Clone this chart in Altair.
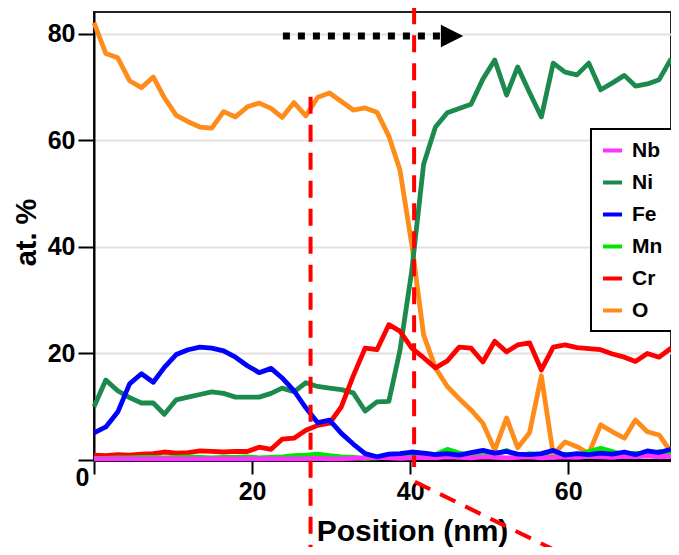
import altair as alt
import pandas as pd

positions = [0.0, 1.5, 3.0, 4.5, 6.0, 7.5, 8.9, 10.4, 11.9, 13.4, 14.9, 16.4, 17.9, 19.4, 20.9,
             22.4, 23.8, 25.3, 26.8, 28.3, 29.8, 31.3, 32.8, 34.3, 35.8, 37.3, 38.7, 40.2, 41.7,
             43.2, 44.7, 46.2, 47.7, 49.2, 50.7, 52.2, 53.6, 55.1, 56.6, 58.1, 59.6, 61.1, 62.6,
             64.1, 65.6, 67.1, 68.5, 70.0, 71.5, 73.0]

o_vals = [82.1, 76.3, 75.5, 71.2, 69.9, 71.9, 68.0, 64.7, 63.5, 62.5, 62.3, 65.4, 64.4, 66.3, 67.0,
          66.0, 64.3, 67.1, 64.6, 68.1, 68.9, 67.3, 65.7, 66.1, 65.3, 60.8, 54.5, 40.5, 23.5,
          17.3, 13.8, 11.5, 9.4, 6.9, 1.9, 7.9, 2.3, 5.1, 15.8, 1.0, 3.4, 2.5, 1.2,
          6.6, 5.3, 4.1, 7.5, 5.3, 4.7, 1.5]

ni_vals = [10.0, 15.0, 13.0, 11.7, 10.7, 10.7, 8.6, 11.3, 11.8, 12.3, 12.8, 12.5, 11.8, 11.8, 11.8,
           12.5, 13.5, 12.8, 14.5, 13.8, 13.5, 13.2, 12.6, 9.2, 10.9, 11.0, 20.5, 35.5, 55.5,
           62.5, 65.2, 66.0, 66.8, 71.5, 75.1, 68.5, 73.8, 69.0, 64.4, 74.5, 72.8, 72.3, 74.5,
           69.5, 70.8, 72.2, 70.2, 70.6, 71.4, 75.3]

fe_vals = [5.1, 6.2, 9.0, 14.3, 16.2, 14.6, 17.4, 19.8, 20.7, 21.2, 21.0, 20.5, 19.3, 17.7, 16.4,
           17.2, 15.4, 13.0, 9.8, 7.0, 7.5, 5.0, 3.0, 1.2, 0.6, 1.1, 1.2, 1.5, 1.3,
           1.0, 1.2, 0.9, 1.4, 1.8, 1.3, 1.6, 1.1, 1.0, 1.2, 1.8, 0.9, 1.2, 1.0,
           1.3, 1.1, 1.5, 1.0, 1.7, 1.4, 2.0]

mn_vals = [0.3, 0.3, 0.4, 0.4, 0.5, 0.5, 0.4, 0.5, 0.6, 0.5, 0.4, 0.5, 0.5, 0.6, 0.4,
           0.5, 0.6, 0.8, 0.9, 1.1, 0.8, 0.6, 0.5, 0.3, 0.4, 0.5, 0.6, 0.8, 1.2,
           1.0, 2.0, 1.3, 0.8, 1.5, 0.9, 1.8, 0.7, 1.2, 0.9, 0.5, 1.1, 0.8, 1.6,
           2.2, 1.6, 0.9, 1.3, 0.8, 1.6, 1.2]

cr_vals = [0.9, 0.8, 1.0, 0.9, 1.1, 1.2, 1.5, 1.3, 1.4, 1.7, 1.6, 1.5, 1.6, 1.6, 2.4,
           2.0, 3.9, 4.1, 5.6, 6.5, 6.9, 10.0, 15.8, 21.0, 20.7, 25.4, 24.2, 21.0, 19.2,
           17.3, 18.6, 21.2, 21.0, 18.4, 22.3, 20.3, 21.6, 22.0, 16.9, 21.2, 21.6, 21.1, 20.9,
           20.7, 19.9, 19.3, 18.5, 20.0, 19.3, 21.0]

nb_vals = [0.2, 0.2, 0.2, 0.2, 0.2, 0.2, 0.2, 0.2, 0.2, 0.2, 0.2, 0.2, 0.2, 0.2, 0.2,
           0.2, 0.2, 0.2, 0.2, 0.3, 0.2, 0.2, 0.3, 0.4, 0.5, 0.4, 0.3, 0.4, 0.5,
           0.4, 0.6, 0.5, 0.4, 0.6, 0.5, 0.4, 0.5, 0.6, 0.4, 0.5, 0.6, 0.5, 0.7,
           0.6, 0.5, 0.7, 0.6, 0.8, 0.6, 0.7]

elements = ["Nb", "Ni", "Fe", "Mn", "Cr", "O"]
colors = ["#ff33ff", "#1b8a4c", "#0000ff", "#00e600", "#ff0000", "#ff8c1a"]

# Annotations (data units)
vline_x = [27.4, 40.5]
vline_top = [68.2, 85.0]
vline_bottom = [-18.0, -1.3]
diag_x = [40.6, 59.8]
diag_y = [-4.1, -18.0]
arrow_x = [23.9, 43.8]
arrow_y = 79.6
arrow_head_x = 45.3

draw_order = [("O", o_vals), ("Ni", ni_vals), ("Cr", cr_vals), ("Mn", mn_vals), ("Nb", nb_vals), ("Fe", fe_vals)]

FONT = "Liberation Sans"
xscale = alt.Scale(domain=[0, 73], nice=False, zero=False)
yscale = alt.Scale(domain=[0, 84.1], nice=False, zero=False)

x_axis = alt.Axis(values=[0, 20, 40, 60], labelExpr="datum.value == 0 ? '' : datum.label",
                  grid=False, tickSize=14, tickWidth=2, tickColor="black",
                  domainColor="black", domainWidth=3, labelFont=FONT, labelFontSize=25,
                  labelFontWeight="bold", labelColor="black", labelPadding=5,
                  labelFlush=False, labelOverlap=False,
                  title="Position (nm)", titleFont=FONT, titleFontSize=30, titleFontWeight="bold",
                  titleColor="black", titleX=318, titleY=80, titleAlign="center",
                  titleBaseline="alphabetic")

y_axis = alt.Axis(values=[0, 20, 40, 60, 80], grid=True, gridColor="#e2e2e2", gridWidth=2,
                  tickSize=16, tickWidth=2, tickColor="black", domainColor="black", domainWidth=2,
                  labelFont=FONT, labelFontSize=25, labelFontWeight="bold", labelColor="black",
                  labelPadding=3, labelFlush=False, labelOverlap=False,
                  labelAlign={"condition": {"test": "datum.value == 0", "value": "left"}, "value": "right"},
                  labelBaseline={"condition": {"test": "datum.value == 0", "value": "top"}, "value": "middle"},
                  labelOffset={"condition": {"test": "datum.value == 0", "value": 5}, "value": 0},
                  title="at. %", titleFont=FONT, titleFontSize=29, titleFontWeight="bold",
                  titleColor="black", titleX=-59, titleY=220, titleAlign="center",
                  titleBaseline="alphabetic", titleAngle=270)

color_scale = alt.Scale(domain=elements, range=colors)
legend = alt.Legend(orient="none", legendX=497, legendY=117, title=None, symbolType="stroke",
                    symbolSize=361, symbolStrokeWidth=4, labelFont=FONT, labelFontSize=21,
                    labelFontWeight="bold", labelColor="black", rowPadding=10, padding=10,
                    strokeColor="black", fillColor="white", labelOffset=8)


def X(field):
    return alt.X(field, scale=xscale, axis=x_axis)


def Y(field):
    return alt.Y(field, scale=yscale, axis=y_axis)


layers = []
for name, vals in draw_order:
    d = pd.DataFrame({"pos": positions, "val": vals, "el": name})
    layers.append(alt.Chart(d).mark_line(strokeWidth=4.8, strokeJoin="round").encode(
        x=X("pos:Q"), y=Y("val:Q"),
        color=alt.Color("el:N", scale=color_scale, legend=legend),
    ))

vdf = pd.DataFrame({"x": vline_x, "y": vline_top, "y2": vline_bottom})
vrules = alt.Chart(vdf).mark_rule(color="#ff0000", strokeWidth=4, strokeDash=[17, 11]).encode(
    x=X("x:Q"), y=Y("y:Q"), y2="y2:Q")

ddf = pd.DataFrame({"x": [diag_x[0]], "x2": [diag_x[1]], "y": [diag_y[0]], "y2": [diag_y[1]]})
drule = alt.Chart(ddf).mark_rule(color="#ff0000", strokeWidth=4, strokeDash=[17, 11]).encode(
    x=X("x:Q"), x2="x2:Q", y=Y("y:Q"), y2="y2:Q")

adf = pd.DataFrame({"x": [arrow_x[0]], "x2": [arrow_x[1]], "y": [arrow_y]})
arrow_line = alt.Chart(adf).mark_rule(color="black", strokeWidth=7, strokeDash=[7, 8]).encode(
    x=X("x:Q"), x2="x2:Q", y=Y("y:Q"))

hdf = pd.DataFrame({"x": [arrow_head_x], "y": [arrow_y]})
arrow_head = alt.Chart(hdf).mark_point(shape="M-1,-1L1,0L-1,1Z", size=500, filled=True,
                                       color="black", opacity=1).encode(
    x=X("x:Q"), y=Y("y:Q"))

chart = alt.layer(*layers, vrules, drule, arrow_line, arrow_head).properties(
    width=577, height=448,
    autosize=alt.AutoSizeParams(type="none"),
    padding={"left": 86, "top": 4, "right": 0, "bottom": 87},
).configure_view(stroke="#222222", strokeWidth=2).configure_legend(strokeWidth=2)

chart.save("out.html", embed_options={"renderer": "svg", "actions": False})
